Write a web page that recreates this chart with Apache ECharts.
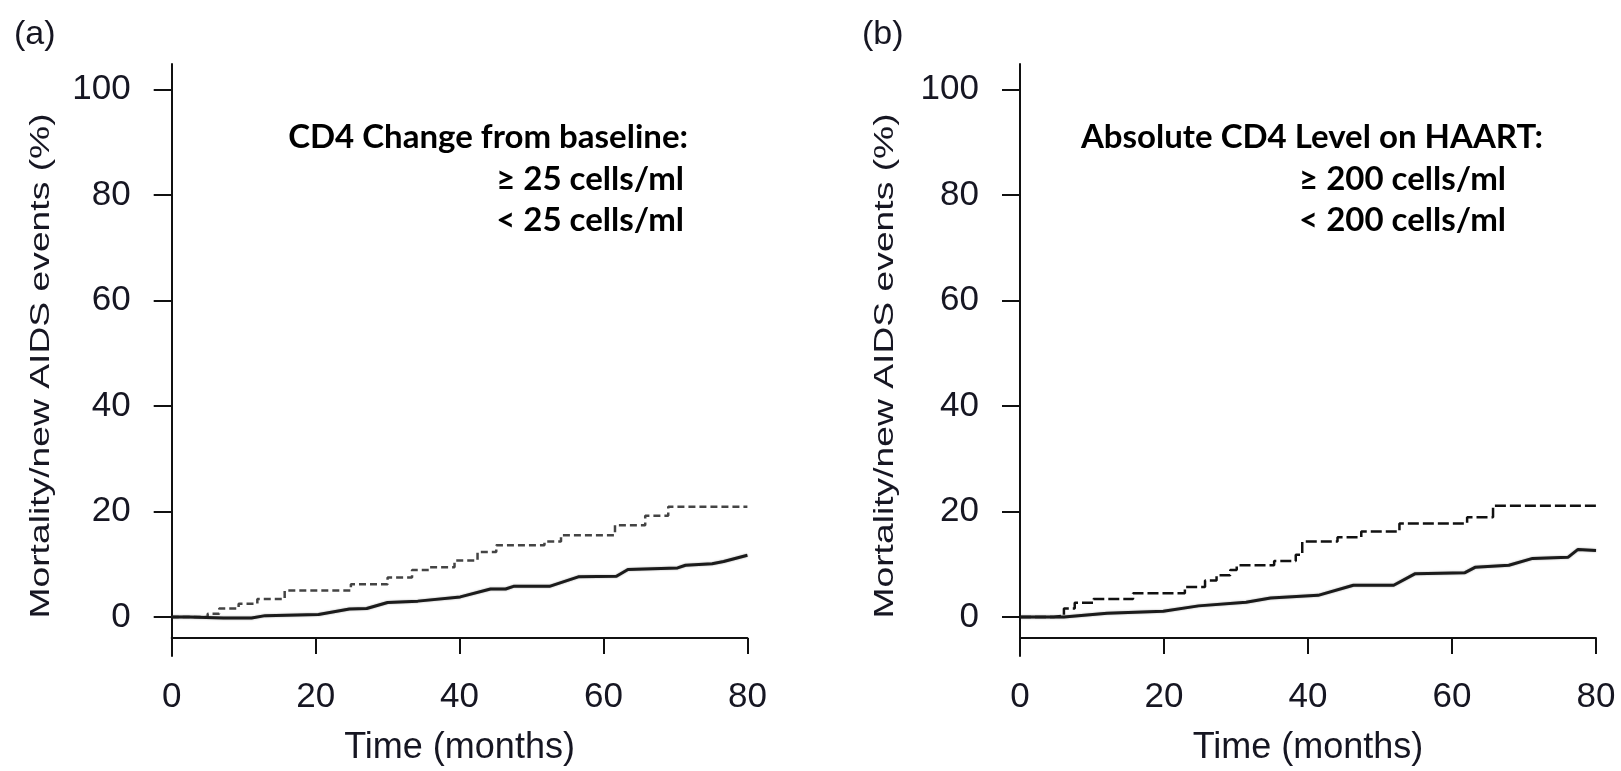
<!DOCTYPE html>
<html>
<head>
<meta charset="utf-8">
<title>Mortality/new AIDS events by CD4 response</title>
<script src="https://cdn.jsdelivr.net/npm/echarts@6/dist/echarts.min.js"></script>
<style>
  html, body { margin: 0; padding: 0; background: #ffffff; }
  #chart { width: 1621px; height: 771px; }
</style>
</head>
<body>
<div id="chart"></div>
<script>
// Axis ticks
const xTicks = [0, 20, 40, 60, 80];
const yTicks = [0, 20, 40, 60, 80, 100];

// Panel (a): CD4 change from baseline
// < 25 cells/ml (dashed step curve): event times (months) and cumulative %
const changeLowTime = [0, 5.0, 6.6, 9.3, 11.9, 15.7, 24.9, 30.0, 33.4, 35.8, 39.3, 42.5, 45.1, 51.8, 54.1, 61.6, 65.8, 69.0, 80];
const changeLowPct  = [0, 0.6, 1.6, 2.5, 3.4, 5.0, 6.2, 7.5, 8.9, 9.4, 10.7, 12.3, 13.6, 14.3, 15.5, 17.4, 19.2, 20.9, 20.9];
// >= 25 cells/ml (solid curve)
const changeHighTime = [0, 2.4, 7.2, 11.1, 13.0, 20.4, 24.7, 27.1, 30.0, 34.2, 40.1, 44.3, 46.4, 47.5, 52.5, 56.5, 61.8, 63.4, 70.3, 71.4, 75.1, 76.7, 80];
const changeHighPct  = [0, 0, -0.2, -0.2, 0.25, 0.45, 1.5, 1.6, 2.75, 3.0, 3.8, 5.3, 5.3, 5.8, 5.8, 7.6, 7.7, 9.0, 9.3, 9.8, 10.1, 10.5, 11.7];

// Panel (b): absolute CD4 level on HAART
// < 200 cells/ml (dashed step curve)
const levelLowTime = [0, 4.7, 6.1, 7.6, 10.2, 15.7, 22.9, 25.7, 27.3, 29.2, 30.1, 35.3, 38.3, 39.2, 44.1, 47.4, 52.7, 62.1, 65.7, 80];
const levelLowPct  = [0, 0.25, 1.6, 2.7, 3.4, 4.5, 5.7, 6.9, 7.9, 8.9, 9.8, 10.6, 11.8, 14.3, 15.1, 16.2, 17.7, 18.9, 21.1, 21.1];
// >= 200 cells/ml (solid curve)
const levelHighTime = [0, 6.1, 12.1, 19.9, 24.8, 31.4, 34.8, 41.4, 46.3, 51.9, 54.9, 61.8, 63.2, 67.9, 71.2, 76.1, 77.5, 80];
const levelHighPct  = [0, 0, 0.7, 1.1, 2.1, 2.8, 3.6, 4.1, 6.0, 6.0, 8.2, 8.4, 9.4, 9.8, 11.1, 11.3, 12.8, 12.6];

// Text
const panelTags = ['(a)', '(b)'];
const yTitle = 'Mortality/new AIDS events (%)';
const xTitle = 'Time (months)';
const legendA = ['CD4 Change from baseline:', '\u2265 25 cells/ml', '< 25 cells/ml'];
const legendB = ['Absolute CD4 Level on HAART:', '\u2265 200 cells/ml', '< 200 cells/ml'];

const zip = (xs, ys) => xs.map((x, i) => [x, ys[i]]);

const INK = '#161622';
const tickFont = 'Liberation Sans';
const legendFont = 'Lato';

function makeX(gridIndex) {
  return {
    type: 'value', gridIndex, min: 0, max: 80, interval: 20,
    position: 'bottom', offset: -18,
    axisLine: { show: true, onZero: false, lineStyle: { color: '#111', width: 2 } },
    axisTick: { show: true, length: 16, lineStyle: { color: '#111', width: 2 } },
    axisLabel: { fontFamily: tickFont, fontSize: 35, color: INK, margin: 42 },
    splitLine: { show: false },
    name: xTitle, nameLocation: 'middle', nameGap: 92,
    nameTextStyle: { fontFamily: tickFont, fontSize: 36, color: INK }
  };
}
function makeY(gridIndex) {
  return {
    type: 'value', gridIndex, min: -7.4, max: 104.8,
    axisLine: { show: true, onZero: false, lineStyle: { color: '#111', width: 2 } },
    axisTick: { show: true, length: 18, customValues: yTicks, lineStyle: { color: '#111', width: 2 } },
    axisLabel: { fontFamily: tickFont, fontSize: 35, color: INK, margin: 41, customValues: yTicks },
    splitLine: { show: false }
  };
}

function stepSeries(idx, data, dash, color) {
  return {
    type: 'line', xAxisIndex: idx, yAxisIndex: idx, step: 'end', data,
    showSymbol: false, silent: true,
    lineStyle: { color, width: 2.5, type: dash }
  };
}
function solidSeries(idx, data) {
  return {
    type: 'line', xAxisIndex: idx, yAxisIndex: idx, data,
    showSymbol: false, silent: true,
    lineStyle: { color: '#1b1b1b', width: 3, shadowColor: 'rgba(0,0,0,0.35)', shadowBlur: 2 }
  };
}

// Legend captions, right-aligned inside each panel
function legendTexts(lines, rightEdges, tops) {
  return lines.map((t, i) => ({
    type: 'text', x: rightEdges[i], y: tops[i],
    style: { text: t, fill: '#000', font: 'bold 33px ' + legendFont, textAlign: 'right', textVerticalAlign: 'middle' }
  }));
}

// Rotated y-axis title, stretched along its length
function yTitleText(cx) {
  return {
    type: 'text', x: cx, y: 366, rotation: Math.PI / 2, scaleX: 1.38, scaleY: 1,
    style: { text: yTitle, fill: INK, font: '27px ' + tickFont, textAlign: 'center', textVerticalAlign: 'middle' }
  };
}

const chart = echarts.init(document.getElementById('chart'), null, { renderer: 'canvas' });
chart.setOption({
  backgroundColor: '#ffffff',
  animation: false,
  grid: [
    { left: 171.7, top: 64, width: 575.7, height: 601 },
    { left: 1020, top: 64, width: 576, height: 601 }
  ],
  xAxis: [makeX(0), makeX(1)],
  yAxis: [makeY(0), makeY(1)],
  series: [
    stepSeries(0, zip(changeLowTime, changeLowPct), [7, 4], '#444'),
    solidSeries(0, zip(changeHighTime, changeHighPct)),
    stepSeries(1, zip(levelLowTime, levelLowPct), [11, 4], '#111'),
    solidSeries(1, zip(levelHighTime, levelHighPct))
  ],
  graphic: [
    { type: 'text', x: 14, y: 35, style: { text: panelTags[0], fill: INK, font: '34px ' + tickFont, textVerticalAlign: 'middle' } },
    { type: 'text', x: 862, y: 35, style: { text: panelTags[1], fill: INK, font: '34px ' + tickFont, textVerticalAlign: 'middle' } },
    yTitleText(42),
    yTitleText(886),
    ...legendTexts(legendA, [688, 684, 684], [137, 179, 220]),
    ...legendTexts(legendB, [1543, 1506, 1506], [137, 179, 220])
  ]
});
</script>
</body>
</html>
